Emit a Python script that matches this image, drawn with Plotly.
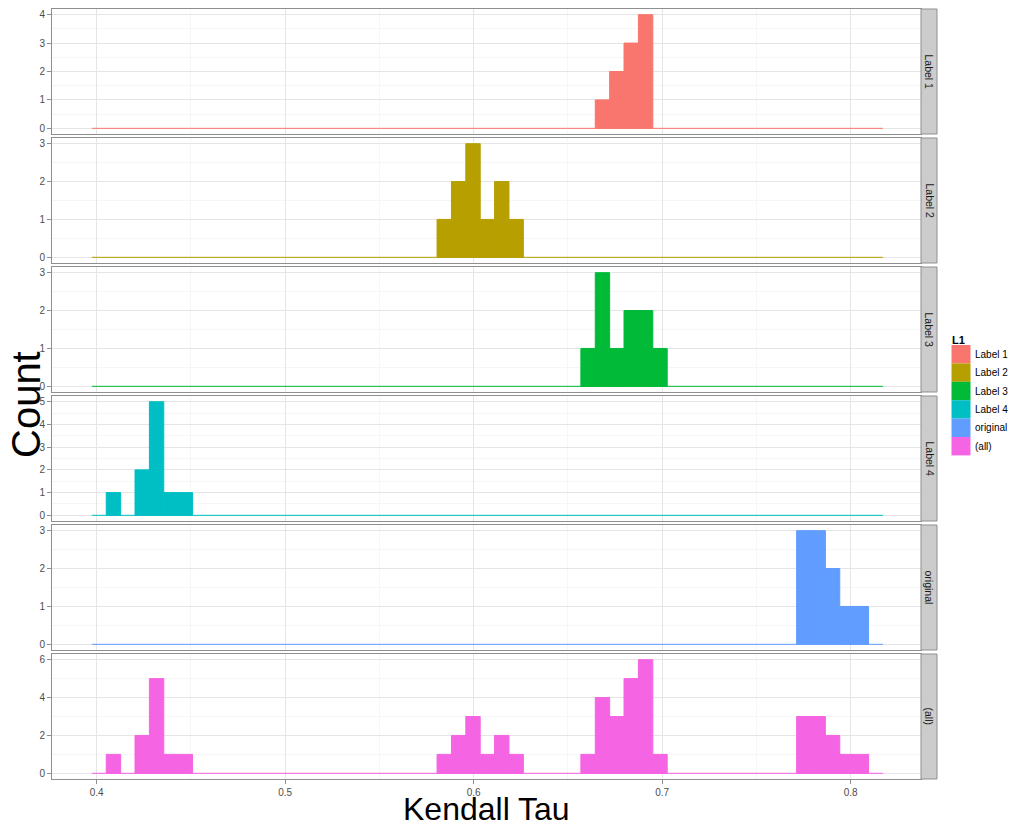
import plotly.graph_objects as go
from plotly.subplots import make_subplots

# ---------------- data ----------------
series_names = ["Label 1", "Label 2", "Label 3", "Label 4", "original", "(all)"]
series_colors = ["#F8766D", "#B79F00", "#00BA38", "#00BFC4", "#619CFF", "#F564E3"]

bin_start = 0.39745      # left edge of first histogram bin
bin_width = 0.00763      # histogram bin width
n_bins = 55

label1_bins = [35, 36, 37, 38]
label1_counts = [1, 2, 3, 4]
label2_bins = [24, 25, 26, 27, 28, 29]
label2_counts = [1, 2, 3, 1, 2, 1]
label3_bins = [34, 35, 36, 37, 38, 39]
label3_counts = [1, 3, 1, 2, 2, 1]
label4_bins = [1, 3, 4, 5, 6]
label4_counts = [1, 2, 5, 1, 1]
original_bins = [49, 50, 51, 52, 53]
original_counts = [3, 3, 2, 1, 1]
all_bins = [1, 3, 4, 5, 6, 24, 25, 26, 27, 28, 29, 34, 35, 36, 37, 38, 39, 49, 50, 51, 52, 53]
all_counts = [1, 2, 5, 1, 1, 1, 2, 3, 1, 2, 1, 1, 4, 3, 5, 6, 1, 3, 3, 2, 1, 1]

series_bins = [label1_bins, label2_bins, label3_bins, label4_bins, original_bins, all_bins]
series_counts = [label1_counts, label2_counts, label3_counts, label4_counts, original_counts, all_counts]

y_max = [4, 3, 3, 5, 3, 6]
y_dtick = [1, 1, 1, 1, 1, 2]
x_ticks = [0.4, 0.5, 0.6, 0.7, 0.8]

# ---------------- figure ----------------
FONT = "Liberation Sans, Arial, sans-serif"
W, H = 1010, 825
L, R, T, B = 52, 89, 9, 46
pw, ph = W - L - R, H - T - B

fig = make_subplots(rows=6, cols=1, shared_xaxes=True, vertical_spacing=4 / ph)

x_lo = bin_start
x_hi = bin_start + n_bins * bin_width
for i, name in enumerate(series_names):
    row = i + 1
    col = series_colors[i]
    # zero-count baseline across full binned range
    fig.add_trace(go.Scatter(x=[x_lo, x_hi], y=[0, 0], mode="lines",
                             line=dict(color=col, width=1), showlegend=False,
                             hoverinfo="skip"), row=row, col=1)
    centers = [bin_start + (k + 0.5) * bin_width for k in series_bins[i]]
    fig.add_trace(go.Bar(x=centers, y=series_counts[i], width=[bin_width] * len(centers),
                         marker=dict(color=col, line=dict(width=1, color=col)), name=name,
                         showlegend=False), row=row, col=1)

grid_major = "#E5E5E5"
grid_minor = "#F6F6F6"
border = "#8F8F8F"

for i in range(6):
    row = i + 1
    m = y_max[i]
    fig.update_yaxes(row=row, col=1, range=[-0.05 * m, 1.05 * m], dtick=y_dtick[i], tick0=0,
                     showgrid=True, gridcolor=grid_major, gridwidth=1,
                     minor=dict(dtick=y_dtick[i] / 2, showgrid=True, gridcolor=grid_minor),
                     showline=True, mirror=True, linecolor=border, linewidth=1,
                     ticks="outside", ticklen=4, tickcolor=border,
                     tickfont=dict(family=FONT, size=10, color="#4D4D4D"),
                     zeroline=False, fixedrange=True)
    fig.update_xaxes(row=row, col=1, range=[0.3763, 0.8373], tickvals=x_ticks,
                     showgrid=True, gridcolor=grid_major, gridwidth=1,
                     minor=dict(dtick=0.05, tick0=0.35, showgrid=True, gridcolor=grid_minor),
                     showline=True, mirror=True, linecolor=border, linewidth=1,
                     ticks="outside" if row == 6 else "", ticklen=4, tickcolor=border,
                     showticklabels=(row == 6),
                     tickfont=dict(family=FONT, size=10, color="#4D4D4D"),
                     zeroline=False)

shapes = []
annotations = []
# facet strips on the right
sx0 = 1.0
sx1 = 1.0 + 16 / pw
for i, name in enumerate(series_names):
    yax = "yaxis" if i == 0 else f"yaxis{i + 1}"
    d0, d1 = fig.layout[yax].domain
    shapes.append(dict(type="rect", xref="paper", yref="paper", x0=sx0, x1=sx1, y0=d0, y1=d1,
                       fillcolor="#CCCCCC", line=dict(color=border, width=1), layer="above"))
    annotations.append(dict(xref="paper", yref="paper", x=(sx0 + sx1) / 2, y=(d0 + d1) / 2,
                            text=name, showarrow=False, textangle=90,
                            font=dict(family=FONT, size=10.5, color="#1A1A1A"),
                            xanchor="center", yanchor="middle"))


def px_x(px):
    return (px - L) / pw


def px_y(py):
    return (H - B - py) / ph


# axis titles
annotations.append(dict(xref="paper", yref="paper", x=px_x(26), y=px_y(405), text="Count",
                        showarrow=False, textangle=-90, xanchor="center", yanchor="middle",
                        font=dict(family=FONT, size=40, color="black")))
annotations.append(dict(xref="paper", yref="paper", x=0.5, y=px_y(809),
                        text="Kendall Tau", showarrow=False, xanchor="center", yanchor="middle",
                        font=dict(family=FONT, size=32, color="black")))

# manual legend (ggplot style)
annotations.append(dict(xref="paper", yref="paper", x=px_x(950), y=px_y(340), text="<b>L1</b>",
                        showarrow=False, xanchor="left", yanchor="middle",
                        font=dict(family=FONT, size=11, color="black")))
key_top = 345
key_h = 18.4
for i, name in enumerate(series_names):
    y0 = key_top + i * key_h
    shapes.append(dict(type="rect", xref="paper", yref="paper",
                       x0=px_x(951.5), x1=px_x(970.5), y0=px_y(y0 + key_h), y1=px_y(y0),
                       fillcolor=series_colors[i], line=dict(width=0)))
    annotations.append(dict(xref="paper", yref="paper", x=px_x(973), y=px_y(y0 + key_h / 2),
                            text=name, showarrow=False, xanchor="left", yanchor="middle",
                            font=dict(family=FONT, size=10, color="black")))

fig.update_layout(width=W, height=H, margin=dict(l=L, r=R, t=T, b=B, pad=0),
                  plot_bgcolor="white", paper_bgcolor="white", showlegend=False,
                  barmode="overlay", shapes=shapes, annotations=annotations,
                  font=dict(family=FONT))

fig.write_html("out.html", config={"displayModeBar": False},
               post_script="document.body.style.margin='0';document.body.style.padding='0';")
